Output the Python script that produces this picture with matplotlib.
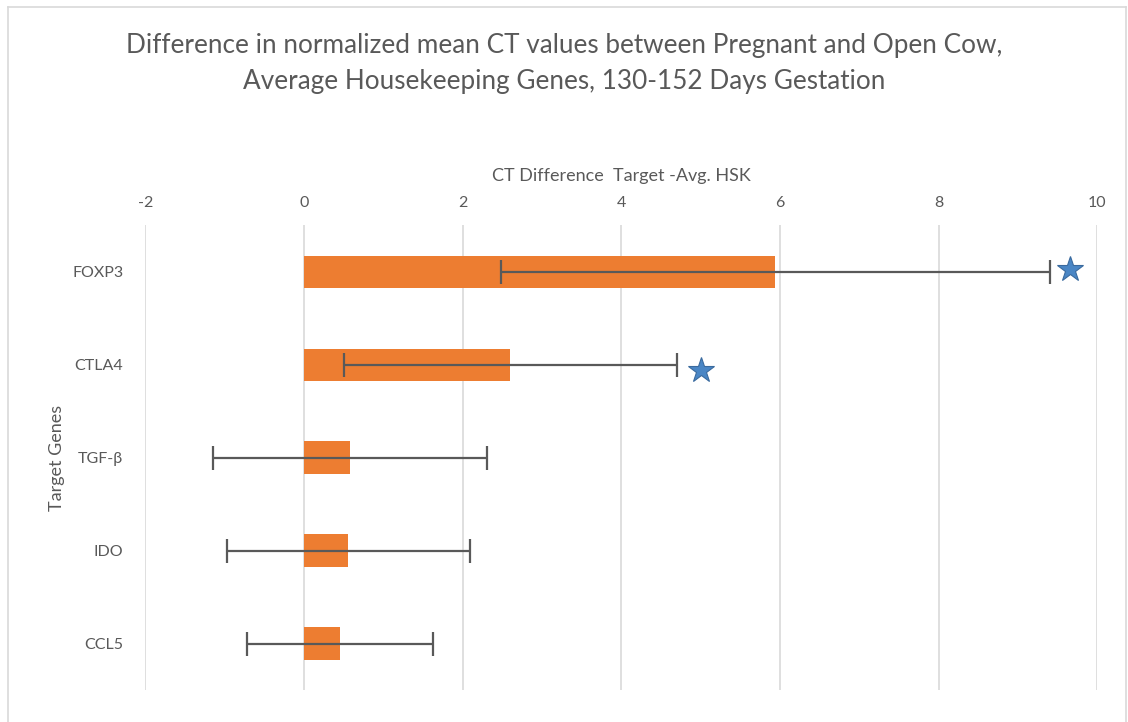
import matplotlib
matplotlib.use("Agg")
import matplotlib.pyplot as plt
from matplotlib.lines import Line2D
import numpy as np

plt.rcParams['font.family'] = ['Lato', 'DejaVu Sans']
plt.rcParams['axes.unicode_minus'] = False

genes = ['FOXP3', 'CTLA4', 'TGF-β', 'IDO', 'CCL5']
ct_diff = [5.94, 2.60, 0.58, 0.56, 0.45]
ct_err = [3.46, 2.10, 1.73, 1.53, 1.17]

# significance stars (x value, category)
star_x = [9.66, 5.00]
star_gene = ['FOXP3', 'CTLA4']
star_shift = [-0.03, 0.06]

grey = '#595959'

fig = plt.figure(figsize=(11.28, 7.22), dpi=100)
ax = fig.add_axes([0.1289, 0.0443, 0.8439, 0.6434])

y = np.arange(len(genes))
ax.barh(y, ct_diff, height=0.35, color='#ED7D31', zorder=2)
ax.errorbar(ct_diff, y, xerr=ct_err, fmt='none', ecolor=grey,
            elinewidth=1.6, capsize=8.5, capthick=1.6, zorder=3)

sy = [genes.index(g) + s for g, s in zip(star_gene, star_shift)]
ax.plot(star_x, sy, linestyle='none', marker='*', markersize=19,
        markerfacecolor='#4A86C5', markeredgecolor='#3A6A9E',
        markeredgewidth=0.8, zorder=4)

ax.set_xlim(-2, 10)
ax.set_ylim(len(genes) - 0.5, -0.5)
ax.set_xticks(np.arange(-2, 11, 2))
ax.set_yticks(y)
ax.set_yticklabels(genes)
ax.xaxis.tick_top()
ax.xaxis.set_label_position('top')
ax.tick_params(axis='both', length=0, labelsize=11.5, labelcolor=grey)
ax.tick_params(axis='x', pad=11)
ax.tick_params(axis='y', pad=16)
ax.grid(axis='x', color='#D9D9D9', linewidth=1.2, zorder=0)
ax.set_axisbelow(True)
for s in ax.spines.values():
    s.set_visible(False)

ax.set_xlabel('CT Difference  Target -Avg. HSK', fontsize=13,
              color=grey, labelpad=11)
ax.set_ylabel('Target Genes', fontsize=13, color=grey, labelpad=5)

fig.text(0.5, 1 - 63.5 / 722,
         'Difference in normalized mean CT values between Pregnant and Open Cow,\n'
         'Average Housekeeping Genes, 130-152 Days Gestation',
         ha='center', va='center', fontsize=18.8, color=grey, linespacing=1.55)

# chart area border
for xs, ys in [([8, 8], [7, 722]), ([8, 1126], [7, 7]), ([1126, 1126], [7, 722])]:
    fig.add_artist(Line2D([v / 1128 for v in xs], [1 - v / 722 for v in ys],
                          color='#D9D9D9', linewidth=1.2))

fig.savefig('out.png', dpi=100)
